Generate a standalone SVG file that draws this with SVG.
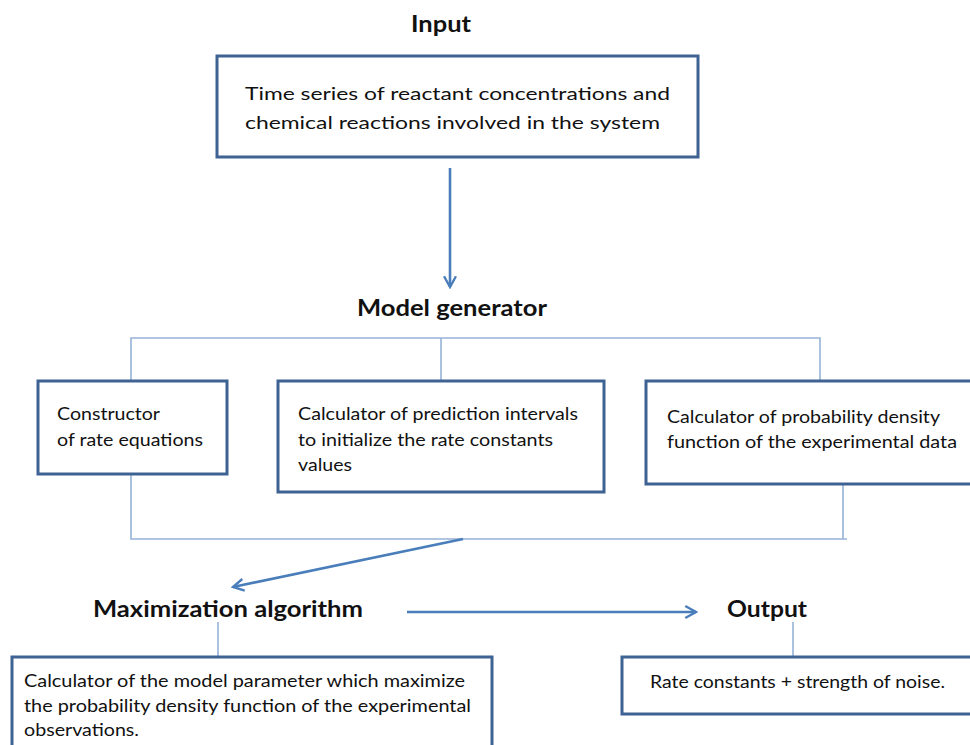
<svg xmlns="http://www.w3.org/2000/svg" width="970" height="745" viewBox="0 0 970 745">
<defs>
<style>
.box{fill:#fff;stroke:#3e6393;stroke-width:3}
.t{font-family:Lato,"Open Sans","Liberation Sans",sans-serif;font-size:18px;fill:#111}
.h{font-family:Lato,"Open Sans","Liberation Sans",sans-serif;font-size:22px;font-weight:bold;fill:#111}
.br{fill:none;stroke:#95b3d7;stroke-width:1.6}
.ar{fill:none;stroke:#4a7ebb;stroke-width:2.6;marker-end:url(#ah)}
</style>
<marker id="ah" viewBox="0 0 12 12" refX="10" refY="6" markerWidth="5.5" markerHeight="5.5" orient="auto" markerUnits="strokeWidth">
<path d="M1,1 L10,6 L1,11" fill="none" stroke="#4a7ebb" stroke-width="2"/>
</marker>
</defs>
<rect width="970" height="745" fill="#fff"/>
<g id="connectors">
<line class="ar" x1="450" y1="168" x2="450" y2="287"/>
<polyline class="br" points="131,381 131,338 820,338 820,381"/>
<line class="br" x1="441" y1="338" x2="441" y2="381"/>
<polyline class="br" points="131,474 131,539 847,539"/>
<line class="br" x1="843" y1="484" x2="843" y2="539"/>
<line class="ar" x1="463" y1="539" x2="233" y2="587"/>
<line class="ar" x1="407" y1="612" x2="696" y2="612"/>
<line class="br" x1="218" y1="622" x2="218" y2="657"/>
<line class="br" x1="793" y1="622" x2="793" y2="657"/>
</g>
<g id="input">
<text class="h" x="441" y="32" text-anchor="middle" textLength="60" lengthAdjust="spacingAndGlyphs">Input</text>
<rect class="box" x="217" y="56" width="481" height="101"/>
<text class="t" x="245" y="100" font-size="20" textLength="425" lengthAdjust="spacingAndGlyphs">Time series of reactant concentrations and</text>
<text class="t" x="245" y="129" font-size="20" textLength="415" lengthAdjust="spacingAndGlyphs">chemical reactions involved in the system</text>
</g>
<g id="model-generator">
<text class="h" x="357" y="316" textLength="190" lengthAdjust="spacingAndGlyphs">Model generator</text>
</g>
<g id="constructor">
<rect class="box" x="38" y="381" width="189" height="93"/>
<text class="t" x="57" y="420" textLength="103" lengthAdjust="spacingAndGlyphs">Constructor</text>
<text class="t" x="57" y="446" textLength="146" lengthAdjust="spacingAndGlyphs">of rate equations</text>
</g>
<g id="prediction">
<rect class="box" x="278" y="381" width="326" height="111"/>
<text class="t" x="298" y="420" textLength="280" lengthAdjust="spacingAndGlyphs">Calculator of prediction intervals</text>
<text class="t" x="298" y="446" textLength="255" lengthAdjust="spacingAndGlyphs">to initialize the rate constants</text>
<text class="t" x="298" y="471" textLength="54" lengthAdjust="spacingAndGlyphs">values</text>
</g>
<g id="pdf">
<rect class="box" x="646" y="381" width="340" height="103"/>
<text class="t" x="667" y="423" textLength="273" lengthAdjust="spacingAndGlyphs">Calculator of probability density</text>
<text class="t" x="667" y="448" textLength="290" lengthAdjust="spacingAndGlyphs">function of the experimental data</text>
</g>
<g id="maximization">
<text class="h" x="93" y="617" textLength="270" lengthAdjust="spacingAndGlyphs">Maximization algorithm</text>
<rect class="box" x="12" y="657" width="480" height="100"/>
<text class="t" x="24" y="687" textLength="441" lengthAdjust="spacingAndGlyphs">Calculator of the model parameter which maximize</text>
<text class="t" x="24" y="712" textLength="447" lengthAdjust="spacingAndGlyphs">the probability density function of the experimental</text>
<text class="t" x="24" y="736" textLength="115" lengthAdjust="spacingAndGlyphs">observations.</text>
</g>
<g id="output">
<text class="h" x="727" y="617" textLength="80" lengthAdjust="spacingAndGlyphs">Output</text>
<rect class="box" x="622" y="657" width="360" height="57"/>
<text class="t" x="650" y="688" textLength="295" lengthAdjust="spacingAndGlyphs">Rate constants + strength of noise.</text>
</g>
</svg>
